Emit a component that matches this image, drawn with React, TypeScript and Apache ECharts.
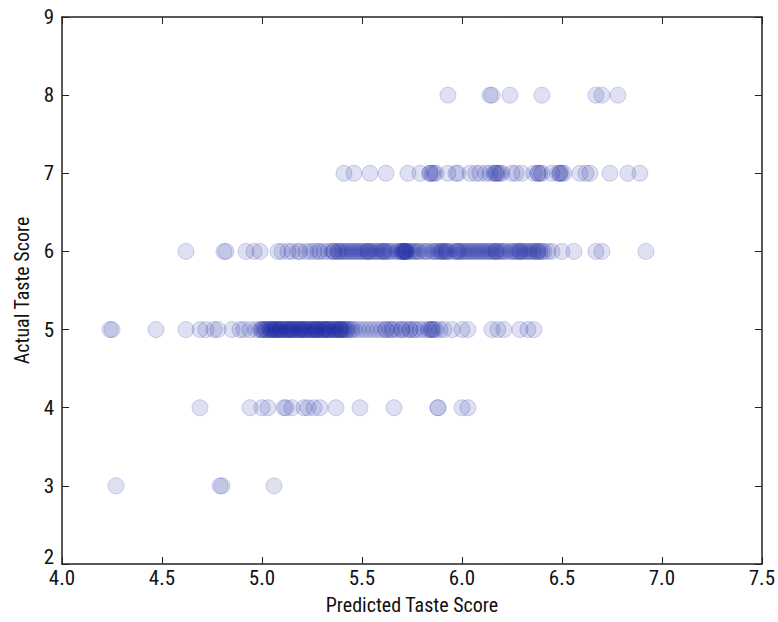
import React, { useEffect, useRef } from "react";
import * as echarts from "echarts";

// Predicted taste score (x) for each actual score row (y)
const row8: number[] = [5.93, 6.14, 6.15, 6.24, 6.40, 6.67, 6.70, 6.78];
const row7: number[] = [
  5.41, 5.46, 5.54, 5.62, 5.73, 5.79, 5.84, 5.84, 5.85, 5.86, 5.87, 5.93, 5.97, 5.98,
  6.04, 6.07, 6.09, 6.12, 6.14, 6.16, 6.17, 6.17, 6.18, 6.19, 6.20, 6.25, 6.27, 6.30, 6.36,
  6.38, 6.38, 6.39, 6.40, 6.45, 6.48, 6.49, 6.49, 6.50, 6.51, 6.59, 6.62, 6.64, 6.74, 6.83, 6.89,
];
const row6: number[] = [
  4.62, 4.81, 4.82, 4.92, 4.96, 4.99, 5.08, 5.10, 5.13, 5.15, 5.18, 5.19, 5.22,
  5.24, 5.26, 5.28, 5.29, 5.31, 5.33, 5.35, 5.36, 5.36, 5.38, 5.38, 5.39, 5.40, 5.41,
  5.42, 5.43, 5.44, 5.45, 5.46, 5.47, 5.48, 5.49, 5.50, 5.51, 5.52, 5.53, 5.53, 5.54,
  5.55, 5.56, 5.57, 5.58, 5.59, 5.60, 5.61, 5.61, 5.62, 5.63, 5.64, 5.65, 5.67, 5.68,
  5.69, 5.70, 5.70, 5.71, 5.71, 5.71, 5.72, 5.72, 5.72, 5.73, 5.74, 5.75, 5.76, 5.77,
  5.78, 5.79, 5.81, 5.82, 5.83, 5.85, 5.86, 5.87, 5.88, 5.89, 5.90, 5.90, 5.91, 5.92,
  5.92, 5.93, 5.94, 5.96, 5.97, 5.98, 5.98, 5.99, 6.00, 6.01, 6.02, 6.03, 6.04, 6.05,
  6.06, 6.07, 6.08, 6.09, 6.10, 6.11, 6.12, 6.13, 6.14, 6.15, 6.16, 6.17, 6.17, 6.18,
  6.19, 6.20, 6.21, 6.22, 6.24, 6.25, 6.26, 6.27, 6.28, 6.29, 6.29, 6.30, 6.31, 6.32,
  6.33, 6.34, 6.35, 6.36, 6.37, 6.38, 6.38, 6.39, 6.40, 6.41, 6.43, 6.45, 6.50, 6.56,
  6.67, 6.70, 6.92,
];
const row5: number[] = [
  4.24, 4.25, 4.47, 4.62, 4.69, 4.72, 4.76, 4.78, 4.85, 4.89, 4.91, 4.94, 4.97,
  4.99, 5.00, 5.00, 5.01, 5.02, 5.02, 5.03, 5.04, 5.04, 5.05, 5.05, 5.06, 5.06, 5.07,
  5.07, 5.08, 5.08, 5.09, 5.09, 5.10, 5.10, 5.11, 5.12, 5.12, 5.13, 5.13, 5.14, 5.14,
  5.15, 5.15, 5.16, 5.16, 5.17, 5.18, 5.18, 5.19, 5.19, 5.20, 5.20, 5.21, 5.21, 5.22,
  5.22, 5.23, 5.24, 5.24, 5.25, 5.25, 5.26, 5.27, 5.27, 5.27, 5.28, 5.28, 5.29, 5.30,
  5.30, 5.31, 5.31, 5.32, 5.32, 5.33, 5.33, 5.34, 5.34, 5.35, 5.36, 5.36, 5.37, 5.37,
  5.38, 5.39, 5.39, 5.39, 5.40, 5.40, 5.41, 5.42, 5.42, 5.43, 5.44, 5.45, 5.46, 5.48,
  5.50, 5.52, 5.54, 5.56, 5.58, 5.60, 5.62, 5.62, 5.64, 5.65, 5.66, 5.68, 5.70, 5.70,
  5.72, 5.74, 5.74, 5.76, 5.77, 5.79, 5.81, 5.83, 5.84, 5.85, 5.85, 5.86, 5.87, 5.89,
  5.91, 5.95, 6.00, 6.03, 6.15, 6.18, 6.21, 6.29, 6.33, 6.36,
];
const row4: number[] = [
  4.69, 4.94, 5.00, 5.03, 5.11, 5.12, 5.15, 5.21, 5.23, 5.26, 5.29, 5.37, 5.49,
  5.66, 5.88, 5.88, 6.00, 6.03,
];
const row3: number[] = [4.27, 4.79, 4.80, 5.06];

const rows: { actual: number; predicted: number[] }[] = [
  { actual: 8, predicted: row8 },
  { actual: 7, predicted: row7 },
  { actual: 6, predicted: row6 },
  { actual: 5, predicted: row5 },
  { actual: 4, predicted: row4 },
  { actual: 3, predicted: row3 },
];

const FONT = "'Liberation Sans Narrow', 'Roboto Condensed', Roboto, sans-serif";

export default function App() {
  const ref = useRef<HTMLDivElement>(null);

  useEffect(() => {
    document.body.style.margin = "0";
    if (!ref.current) return;
    const chart = echarts.init(ref.current, undefined, { renderer: "svg" });
    const data: number[][] = [];
    rows.forEach((r) => r.predicted.forEach((p) => data.push([p, r.actual])));

    const lineStyle = { color: "#222", width: 1.5 };
    const tickStyle = { show: true, inside: true, length: 7, lineStyle: { color: "#222", width: 1 } };
    const label = { color: "#111", fontSize: 21, fontFamily: FONT };

    chart.setOption({
      animation: false,
      backgroundColor: "#fff",
      grid: { left: 62, right: 8, top: 17, bottom: 58, containLabel: false },
      xAxis: [
        {
          type: "value",
          min: 4,
          max: 7.5,
          interval: 0.5,
          position: "bottom",
          splitLine: { show: false },
          axisLine: { show: true, onZero: false, lineStyle },
          axisTick: tickStyle,
          axisLabel: { ...label, margin: 3, formatter: (v: number) => v.toFixed(1) },
          name: "Predicted Taste Score",
          nameLocation: "middle",
          nameGap: 31,
          nameTextStyle: { color: "#111", fontSize: 20, fontFamily: FONT },
        },
        {
          type: "value",
          min: 4,
          max: 7.5,
          interval: 0.5,
          position: "top",
          splitLine: { show: false },
          axisLine: { show: true, onZero: false, lineStyle },
          axisTick: tickStyle,
          axisLabel: { show: false },
        },
      ],
      yAxis: [
        {
          type: "value",
          min: 2,
          max: 9,
          interval: 1,
          position: "left",
          splitLine: { show: false },
          axisLine: { show: true, onZero: false, lineStyle },
          axisTick: tickStyle,
          axisLabel: {
            ...label,
            margin: 8,
            formatter: (v: number) => (v === 2 ? "{lift|2}" : String(v)),
            rich: { lift: { fontSize: 21, lineHeight: 18, fontFamily: FONT, color: "#111", padding: [0, 0, 14, 0] } },
          },
          name: "Actual Taste Score",
          nameLocation: "middle",
          nameGap: 30,
          nameRotate: 90,
          nameTextStyle: { color: "#111", fontSize: 20, fontFamily: FONT },
        },
        {
          type: "value",
          min: 2,
          max: 9,
          interval: 1,
          position: "right",
          splitLine: { show: false },
          axisLine: { show: true, onZero: false, lineStyle },
          axisTick: tickStyle,
          axisLabel: { show: false },
        },
      ],
      series: [
        {
          type: "scatter",
          xAxisIndex: 0,
          yAxisIndex: 0,
          symbol: "circle",
          symbolSize: 16,
          data,
          itemStyle: {
            color: "rgba(25,35,160,0.17)",
            borderColor: "rgba(25,35,160,0.24)",
            borderWidth: 1,
          },
          emphasis: { disabled: true },
        },
      ],
    });
    return () => chart.dispose();
  }, []);

  return <div ref={ref} style={{ width: 778, height: 622 }} />;
}
